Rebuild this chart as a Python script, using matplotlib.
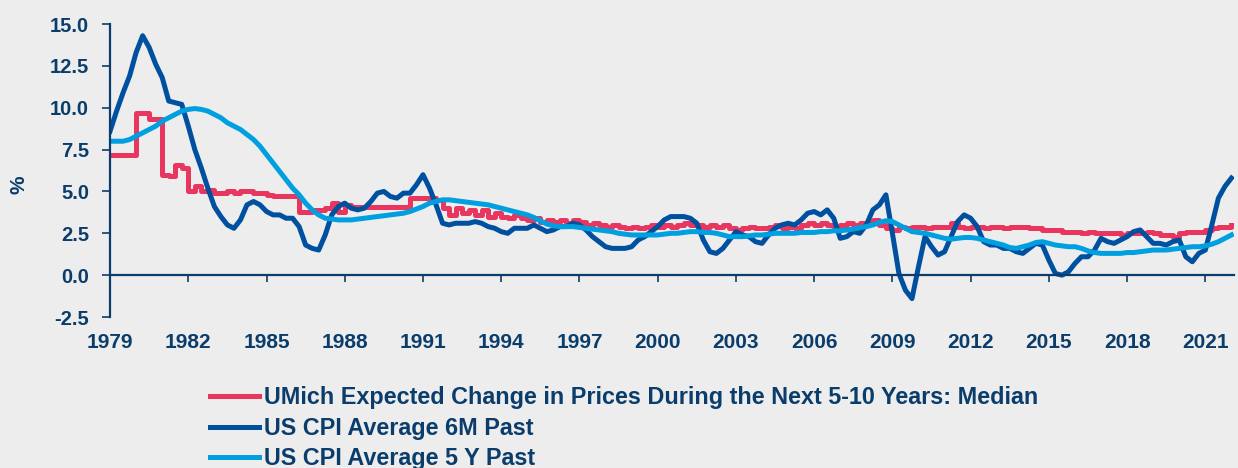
import numpy as np
import matplotlib
matplotlib.use("Agg")
import matplotlib.pyplot as plt

# quarterly observations, 1979Q1 .. 2022Q1
dates = 1979.0 + 0.25 * np.arange(173)

# UMich expected change in prices, next 5-10 years (median)
umich = [
    7.2, 7.2, 7.2, 7.2,   9.7, 9.7, 9.3, 9.3,   6.0, 5.9, 6.6, 6.4,
    5.0, 5.3, 5.0, 5.1,   4.9, 4.9, 5.0, 4.9,   5.0, 5.0, 4.9, 4.9,
    4.8, 4.7, 4.7, 4.7,   4.7, 3.8, 3.8, 3.9,   3.9, 4.0, 4.3, 3.8,
    4.2, 4.1, 4.1, 4.1,   4.1, 4.1, 4.1, 4.1,   4.1, 4.1, 4.6, 4.6,
    4.6, 4.6, 4.5, 4.0,   3.6, 4.0, 3.7, 3.9,   3.6, 3.9, 3.5, 3.7,
    3.5, 3.4, 3.6, 3.4,   3.3, 3.4, 3.2, 3.3,   3.2, 3.3, 3.1, 3.3,
    3.2, 3.0, 3.1, 3.0,   2.9, 3.0, 2.9, 2.8,   2.9, 2.8, 2.9, 3.0,
    2.9, 3.0, 2.9, 3.0,   3.1, 3.0, 3.0, 2.9,   3.0, 2.9, 3.0, 2.8,
    2.7, 2.8, 2.9, 2.8,   2.8, 2.9, 3.0, 2.8,   2.9, 2.8, 3.0, 3.1,
    3.0, 3.1, 3.0, 2.9,   3.0, 3.1, 3.0, 3.1,   3.1, 3.3, 3.0, 2.8,
    2.7, 2.9, 2.8, 2.9,   2.9, 2.8, 2.9, 2.9,   2.9, 3.1, 2.9, 2.8,
    2.9, 2.9, 2.8, 2.9,   2.9, 2.8, 2.9, 2.9,   2.9, 2.8, 2.8, 2.7,
    2.7, 2.7, 2.6, 2.6,   2.6, 2.5, 2.6, 2.5,   2.5, 2.5, 2.5, 2.4,
    2.5, 2.5, 2.5, 2.6,   2.5, 2.4, 2.4, 2.3,   2.5, 2.6, 2.6, 2.6,
    2.7, 2.8, 2.9, 2.9,   3.0,
]

# US CPI, average of past 6 months
cpi_6m = [
    8.6, 9.8, 10.9, 11.9,  13.3, 14.3, 13.6, 12.6,  11.8, 10.4, 10.3, 10.2,
    8.9, 7.5, 6.4, 5.2,    4.1, 3.5, 3.0, 2.8,     3.3, 4.2, 4.4, 4.2,
    3.8, 3.6, 3.6, 3.4,    3.4, 2.9, 1.8, 1.6,     1.5, 2.4, 3.6, 4.1,
    4.3, 4.0, 3.9, 4.0,    4.4, 4.9, 5.0, 4.7,     4.6, 4.9, 4.9, 5.4,
    6.0, 5.2, 4.2, 3.1,    3.0, 3.1, 3.1, 3.1,     3.2, 3.1, 2.9, 2.8,
    2.6, 2.5, 2.8, 2.8,    2.8, 3.0, 2.8, 2.6,     2.7, 2.9, 2.9, 3.1,
    3.0, 2.7, 2.3, 2.0,    1.7, 1.6, 1.6, 1.6,     1.7, 2.1, 2.3, 2.6,
    2.9, 3.3, 3.5, 3.5,    3.5, 3.4, 3.1, 2.1,     1.4, 1.3, 1.6, 2.1,
    2.6, 2.4, 2.3, 2.0,    1.9, 2.4, 2.8, 3.0,     3.1, 3.0, 3.3, 3.7,
    3.8, 3.6, 3.9, 3.4,    2.2, 2.3, 2.6, 2.5,     3.0, 3.9, 4.2, 4.8,
    2.5, 0.1, -0.9, -1.4,  0.5, 2.3, 1.7, 1.2,     1.4, 2.3, 3.2, 3.6,
    3.4, 2.9, 2.0, 1.8,    1.8, 1.6, 1.6, 1.4,     1.3, 1.6, 1.9, 1.8,
    0.9, 0.1, 0.0, 0.2,    0.7, 1.1, 1.1, 1.5,     2.2, 2.0, 1.9, 2.1,
    2.3, 2.6, 2.7, 2.3,    1.9, 1.9, 1.8, 2.0,     2.1, 1.1, 0.8, 1.3,
    1.5, 3.0, 4.6, 5.3,    5.8,
]

# US CPI, average of past 5 years
cpi_5y = [
    8.0, 8.0, 8.0, 8.1,     8.3, 8.5, 8.7, 8.9,     9.2, 9.4, 9.6, 9.8,
    9.9, 9.95, 9.9, 9.8,    9.6, 9.4, 9.1, 8.9,     8.7, 8.4, 8.1, 7.7,
    7.2, 6.7, 6.2, 5.7,     5.2, 4.8, 4.3, 3.9,     3.6, 3.4, 3.35, 3.3,
    3.3, 3.3, 3.35, 3.4,    3.45, 3.5, 3.55, 3.6,   3.65, 3.7, 3.8, 3.95,
    4.1, 4.3, 4.4, 4.5,     4.5, 4.45, 4.4, 4.35,   4.3, 4.25, 4.2, 4.1,
    4.0, 3.9, 3.8, 3.7,     3.6, 3.45, 3.25, 3.05,  2.95, 2.9, 2.9, 2.9,
    2.85, 2.8, 2.75, 2.7,   2.65, 2.6, 2.5, 2.45,   2.4, 2.4, 2.4, 2.4,
    2.4, 2.45, 2.5, 2.5,    2.55, 2.6, 2.6, 2.55,   2.55, 2.5, 2.4, 2.3,
    2.3, 2.3, 2.35, 2.4,    2.4, 2.45, 2.5, 2.5,    2.5, 2.5, 2.55, 2.55,
    2.55, 2.6, 2.6, 2.65,   2.65, 2.7, 2.75, 2.85,  2.9, 3.0, 3.15, 3.25,
    3.2, 3.0, 2.8, 2.6,     2.55, 2.5, 2.4, 2.3,    2.2, 2.15, 2.2, 2.25,
    2.25, 2.2, 2.1, 2.0,    1.9, 1.8, 1.65, 1.6,    1.7, 1.8, 1.95, 2.0,
    1.9, 1.8, 1.75, 1.7,    1.7, 1.6, 1.45, 1.35,   1.3, 1.3, 1.3, 1.3,
    1.35, 1.35, 1.4, 1.45,  1.5, 1.5, 1.5, 1.55,    1.6, 1.65, 1.7, 1.7,
    1.75, 1.85, 2.0, 2.2,   2.4,
]

year_ticks = list(range(1979, 2022, 3))
series_names = [
    "UMich Expected Change in Prices During the Next 5-10 Years: Median",
    "US CPI Average 6M Past",
    "US CPI Average 5 Y Past",
]

navy = "#0A3D6B"
bg = "#EDEDED"
plt.rcParams["font.family"] = ["Liberation Sans", "DejaVu Sans"]
plt.rcParams["font.weight"] = "bold"

fig = plt.figure(figsize=(12.38, 4.68), dpi=100, facecolor=bg)
ax = fig.add_axes([0.0889, 0.3226, 0.9079, 0.6261], facecolor=bg)

ax.plot(dates, umich, color="#E8365F", lw=3.6, drawstyle="steps-post", label=series_names[0])
ax.plot(dates, cpi_6m, color="#0050A0", lw=3.6, label=series_names[1])
ax.plot(dates, cpi_5y, color="#00A0E0", lw=3.6, label=series_names[2])

ax.set_xlim(1979, 2022.1)
ax.set_ylim(-2.5, 15)
ax.set_yticks(np.arange(-2.5, 15.1, 2.5))
ax.set_yticklabels([f"{v:.1f}" for v in np.arange(-2.5, 15.1, 2.5)])
ax.set_xticks(year_ticks)
ax.set_xticklabels([str(y) for y in year_ticks])

for s in ["top", "right"]:
    ax.spines[s].set_visible(False)
ax.spines["bottom"].set_position(("data", 0))
ax.spines["left"].set_bounds(-2.5, 15)
for s in ["bottom", "left"]:
    ax.spines[s].set_color(navy)
    ax.spines[s].set_linewidth(1.6)

ax.tick_params(axis="y", colors=navy, labelsize=14.5, length=6, width=1.2, pad=9)
ax.tick_params(axis="x", colors=navy, labelsize=15, length=5, width=1.2, pad=37)
for lbl in ax.get_xticklabels() + ax.get_yticklabels():
    lbl.set_fontweight("bold")

ax.set_ylabel("%", color=navy, fontsize=15, fontweight="bold")
ax.yaxis.set_label_coords(-0.073, 0.45)

leg = fig.legend(loc="upper left", bbox_to_anchor=(0.153, 0.22), frameon=False,
                 handlelength=2.1, handletextpad=0.2, labelspacing=0.33,
                 prop={"family": ["Liberation Sans"], "weight": "bold", "size": 16.8})
for t in leg.get_texts():
    t.set_color(navy)

fig.savefig("out.png", dpi=100, facecolor=bg)
